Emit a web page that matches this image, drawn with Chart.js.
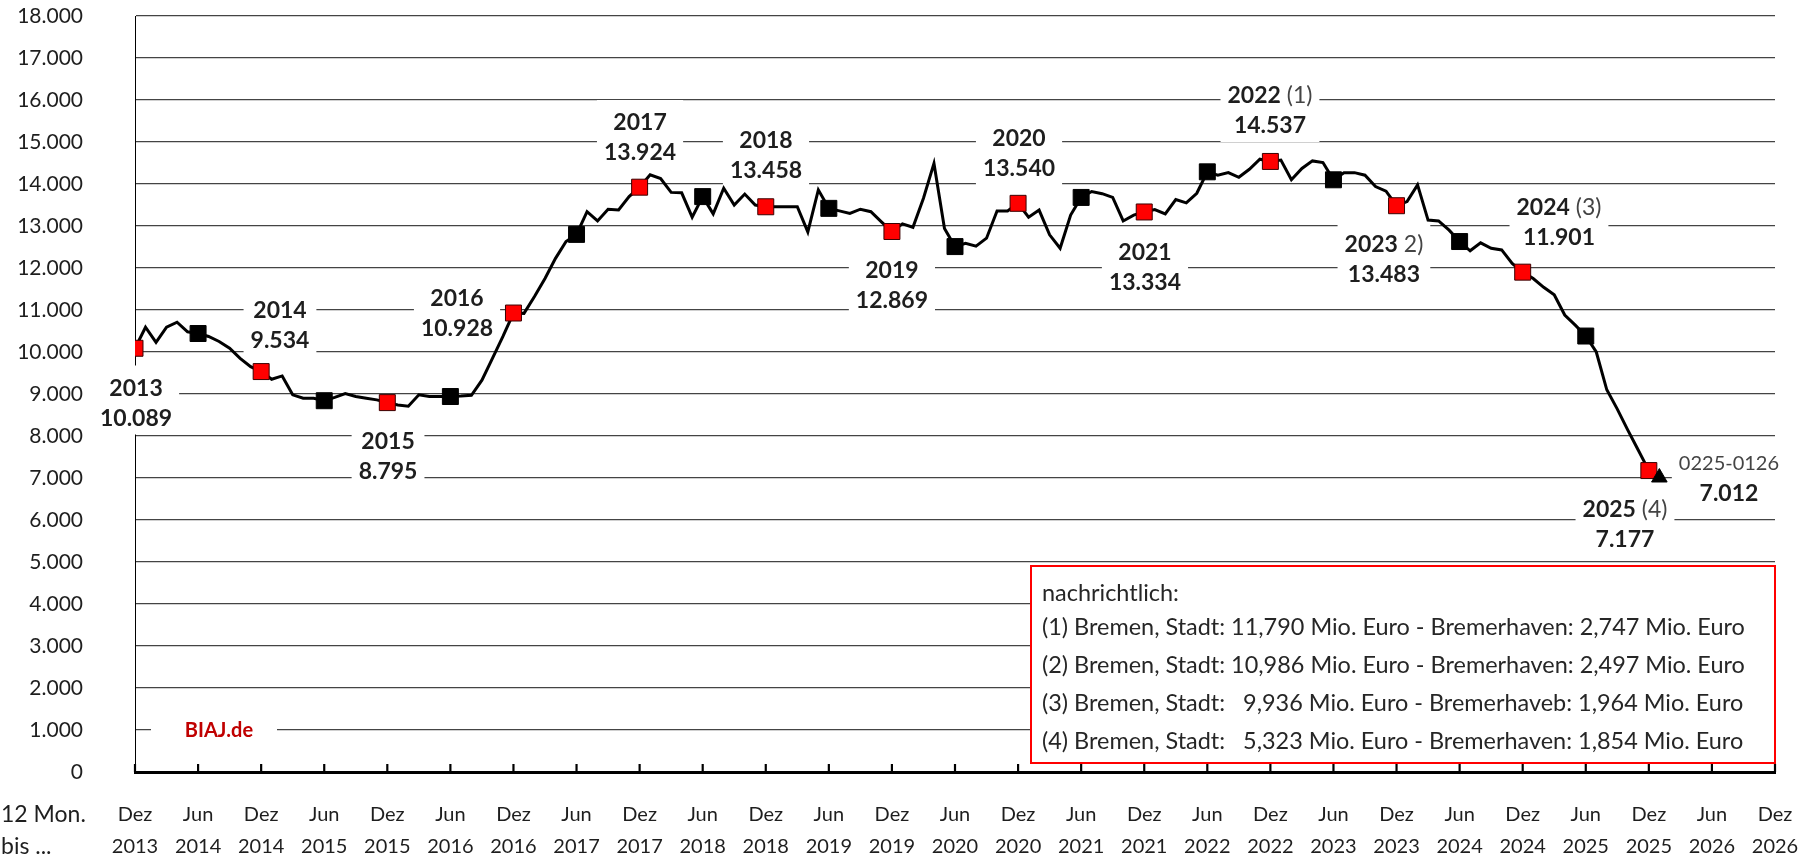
<!DOCTYPE html>
<html><head><meta charset="utf-8">
<script src="https://cdn.jsdelivr.net/npm/chart.js@4.4.1/dist/chart.umd.min.js"></script>
<style>html,body{margin:0;padding:0;background:#fff;overflow:hidden}#wrap{width:1807px;height:861px;position:relative}canvas{display:block}</style>
</head><body><div id="wrap"><canvas id="c" width="1807" height="861"></canvas></div>
<script>
// ---------- data ----------
const tickLabels = ['Dez 2013','Jun 2014','Dez 2014','Jun 2015','Dez 2015','Jun 2016','Dez 2016','Jun 2017','Dez 2017','Jun 2018','Dez 2018','Jun 2019','Dez 2019','Jun 2020','Dez 2020','Jun 2021','Dez 2021','Jun 2022','Dez 2022','Jun 2023','Dez 2023','Jun 2024','Dez 2024','Jun 2025','Dez 2025','Jun 2026','Dez 2026'];
// rolling 12-month values (Mio. Euro), monthly from Dez 2013 to Jan 2026
const values = [
10089,10590,10230,10590,10710,10480,10440,10370,10250,10090,9850,9650,
9534,9350,9430,8980,8900,8900,8840,8920,9010,8940,8900,8860,
8795,8740,8710,8980,8940,8940,8940,8950,8970,9330,9850,10370,
10928,10920,11320,11750,12230,12630,12800,13340,13120,13400,13380,13700,
13924,14220,14130,13800,13790,13210,13700,13290,13900,13500,13760,13500,
13458,13460,13460,13460,12860,13860,13420,13360,13300,13400,13340,13100,
12869,13050,12970,13660,14490,12940,12510,12590,12520,12710,13360,13360,
13540,13210,13380,12790,12470,13260,13680,13820,13770,13680,13120,13260,
13334,13390,13290,13630,13550,13780,14290,14210,14270,14160,14350,14590,
14537,14570,14100,14370,14550,14510,14100,14270,14270,14210,13940,13830,
13483,13580,13980,13140,13120,12900,12630,12410,12600,12470,12430,12110,
11901,11750,11540,11360,10880,10640,10380,10000,9100,8640,8140,7660,
7177,7012];
const yearTitles = ['2013','2014','2015','2016','2017','2018','2019','2020','2021','2022','2023','2024','2025'];
const yearNotes  = ['','','','','','','','','',' (1)',' 2)',' (3)',' (4)'];
const yearValues = [10089,9534,8795,10928,13924,13458,12869,13540,13334,14537,13483,11901,7177];
const lastPeriod = '0225-0126';
const lastValue = 7012;
const noteLines = [
 'nachrichtlich:',
 '(1) Bremen, Stadt: 11,790 Mio. Euro - Bremerhaven: 2,747 Mio. Euro',
 '(2) Bremen, Stadt: 10,986 Mio. Euro - Bremerhaven: 2,497 Mio. Euro',
 '(3) Bremen, Stadt:   9,936 Mio. Euro - Bremerhaveb: 1,964 Mio. Euro',
 '(4) Bremen, Stadt:   5,323 Mio. Euro - Bremerhaven: 1,854 Mio. Euro'
];
const sourceText = 'BIAJ.de';
const axisCaption = ['12 Mon.', 'bis ...'];

// ---------- layout (label anchors in data units: [month, value]) ----------
const yearAnchors = [[0.1,8798],[13.79,10655],[24.07,7536],[30.63,10940],[48.04,15119],[60.02,14690],[72.0,11595],[84.09,14738],[96.07,12024],[107.96,15762],[118.8,12214],[135.45,13095],[141.73,5905]];
const lastAnchor = [151.62, 7000];

const FONT = 'Lato, "Open Sans", sans-serif';
const fmt = v => String(Math.round(v)).replace(/\B(?=(\d{3})+(?!\d))/g, '.');

const ptStyle = [], ptRadius = [], ptBg = [], ptBorder = [];
values.forEach((v, i) => {
  if (i === values.length - 1) { ptStyle.push('triangle'); ptRadius.push(9); ptBg.push('#000'); ptBorder.push('#000'); }
  else if (i % 12 === 0) { ptStyle.push('rect'); ptRadius.push(11.3); ptBg.push('#ff0000'); ptBorder.push('#3a0000'); }
  else if (i % 12 === 6) { ptStyle.push('rect'); ptRadius.push(11.3); ptBg.push('#000'); ptBorder.push('#000'); }
  else { ptStyle.push('circle'); ptRadius.push(0); ptBg.push('#000'); ptBorder.push('#000'); }
});

function drawBlock(ctx, cx, cy, lines) {
  const gap = 15, padX = 7, padTop = 22, padBot = 17;
  const widths = lines.map(parts => parts.reduce((w, p) => { ctx.font = p.font; return w + ctx.measureText(p.t).width; }, 0));
  const w = Math.max(...widths) + 2 * padX;
  const y1 = cy - gap, y2 = cy + gap;
  ctx.fillStyle = '#fff';
  ctx.fillRect(cx - w / 2, y1 - padTop, w, (y2 + padBot) - (y1 - padTop));
  ctx.textBaseline = 'middle'; ctx.textAlign = 'left';
  lines.forEach((parts, li) => {
    let x = cx - widths[li] / 2;
    const y = li === 0 ? y1 : y2;
    parts.forEach(p => { ctx.font = p.font; ctx.fillStyle = p.color; ctx.fillText(p.t, x, y + 1); x += ctx.measureText(p.t).width; });
  });
}

const BOLD = 'bold 23px ' + FONT, REG = '23px ' + FONT;
const INK = '#1e1e1e', GREY = '#444';

const annotPlugin = {
  id: 'annot',
  beforeDatasetsDraw(chart) {
    const {ctx, scales: {x, y}, chartArea} = chart;
    ctx.save();
    yearTitles.forEach((t, i) => {
      const cx = x.getPixelForValue(yearAnchors[i][0]);
      const cy = y.getPixelForValue(yearAnchors[i][1]);
      const l1 = [{t, font: BOLD, color: INK}];
      if (yearNotes[i]) l1.push({t: yearNotes[i], font: REG, color: GREY});
      drawBlock(ctx, cx, cy, [l1, [{t: fmt(yearValues[i]), font: BOLD, color: INK}]]);
    });
    drawBlock(ctx, x.getPixelForValue(lastAnchor[0]), y.getPixelForValue(lastAnchor[1]),
      [[{t: lastPeriod, font: '20px ' + FONT, color: GREY}], [{t: fmt(lastValue), font: BOLD, color: INK}]]);
    // source label
    const sy = y.getPixelForValue(1000);
    ctx.fillStyle = '#fff'; ctx.fillRect(151, sy - 14, 126, 28);
    ctx.font = 'bold 20px ' + FONT; ctx.fillStyle = '#c00000'; ctx.textAlign = 'center'; ctx.textBaseline = 'middle';
    ctx.fillText(sourceText, 219, sy + 1);
    // notes box
    const bx = 1031, by = 566, bw = chartArea.right - 1031, bh = 197;
    ctx.fillStyle = '#fff'; ctx.fillRect(bx, by, bw, bh);
    ctx.strokeStyle = '#ff0000'; ctx.lineWidth = 2; ctx.strokeRect(bx, by, bw, bh);
    let fs = 20; ctx.font = fs + 'px ' + FONT;
    const mw = ctx.measureText(noteLines[1]).width; fs = fs * 703 / mw;
    ctx.font = fs.toFixed(2) + 'px ' + FONT; ctx.fillStyle = '#262626'; ctx.textAlign = 'left';
    const ly = [593, 627, 665, 703, 741];
    noteLines.forEach((t, i) => ctx.fillText(t, 1042, ly[i]));
    // axis caption
    ctx.font = '23px ' + FONT; ctx.fillStyle = INK; ctx.textAlign = 'left';
    ctx.fillText(axisCaption[0], 1, 815); ctx.fillText(axisCaption[1], 1, 847);
    ctx.restore();
  },
  afterDatasetsDraw(chart) {
    const {ctx, scales: {x}, chartArea} = chart;
    ctx.save(); ctx.strokeStyle = '#000'; ctx.lineWidth = 2.2;
    x.ticks.forEach(t => {
      const px = x.getPixelForValue(t.value);
      ctx.beginPath(); ctx.moveTo(px, chartArea.bottom); ctx.lineTo(px, chartArea.bottom - 8); ctx.stroke();
    });
    ctx.restore();
  }
};

new Chart(document.getElementById('c'), {
  type: 'line',
  data: {
    datasets: [{
      data: values.map((v, i) => ({x: i, y: v})),
      borderColor: '#000', borderWidth: 3, tension: 0, fill: false,
      pointStyle: ptStyle, pointRadius: ptRadius, pointBackgroundColor: ptBg, pointBorderColor: ptBorder,
      pointBorderWidth: 1, pointHoverRadius: ptRadius
    }]
  },
  options: {
    responsive: false, animation: false, devicePixelRatio: 1,
    layout: {padding: {left: 0, right: 32, top: 16, bottom: 0}},
    plugins: {legend: {display: false}, tooltip: {enabled: false}},
    events: [],
    scales: {
      x: {
        type: 'linear', min: 0, max: 156,
        afterFit(s) { s.height = 89; s.paddingLeft = 0; s.paddingRight = 0; s.paddingTop = 0; s.paddingBottom = 0; },
        grid: {display: false, drawTicks: false},
        border: {display: true, color: '#000', width: 3},
        ticks: {stepSize: 6, autoSkip: false, maxRotation: 0, padding: 27, color: INK,
          font: {family: FONT, size: 20, lineHeight: 1.6},
          callback: v => { const s = tickLabels[Math.round(v / 6)]; return s ? s.split(' ') : ''; }}
      },
      y: {
        min: 0, max: 18000,
        afterFit(s) { s.width = 135; s.paddingLeft = 0; s.paddingRight = 0; s.paddingTop = 0; s.paddingBottom = 0; },
        grid: {drawTicks: false, lineWidth: 1.3, color: c => (c.tick && c.tick.value === 0) ? 'rgba(0,0,0,0)' : '#444'},
        border: {display: true, color: '#000', width: 1},
        ticks: {stepSize: 1000, padding: 52, color: INK, font: {family: FONT, size: 21}, callback: v => fmt(v)}
      }
    }
  },
  plugins: [annotPlugin]
});
</script></body></html>
